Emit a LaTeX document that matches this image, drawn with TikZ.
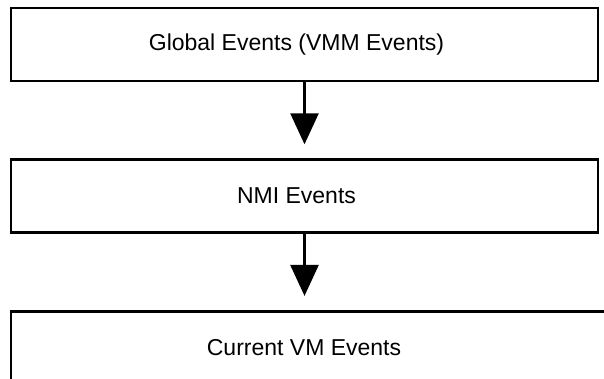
\documentclass[tikz,border=0pt]{standalone}
\usepackage{fontspec}
\setmainfont{Liberation Sans}
\usetikzlibrary{positioning, arrows.meta}

\begin{document}
\begin{tikzpicture}[
    x=1pt, y=1pt,
    node distance=76pt,
    box/.style={rectangle, draw, line width=2.6pt, minimum height=73pt, minimum width=587pt, align=center, font=\fontsize{23}{27}\selectfont, execute at begin node=\hspace*{-16pt}},
    flow/.style={-{Triangle[width=28pt,length=31pt]}, line width=2.6pt, shorten >=14pt}
]
\useasboundingbox (0,0) rectangle (604,378);
\clip (0,0) rectangle (604,378);
% Boxes
\node[box] (global) at (304.5,333.5) {Global Events (VMM Events)};
\node[box, below=of global] (nmi) {NMI Events};
\node[box, minimum width=620pt, below=76pt of nmi.south west, anchor=north west] (vm) {\hspace*{-18pt}Current VM Events};

% Arrows
\draw[flow] (global) -- (nmi);
\draw[flow] (nmi.south) -- (nmi.south |- vm.north);
\end{tikzpicture}
\end{document}
